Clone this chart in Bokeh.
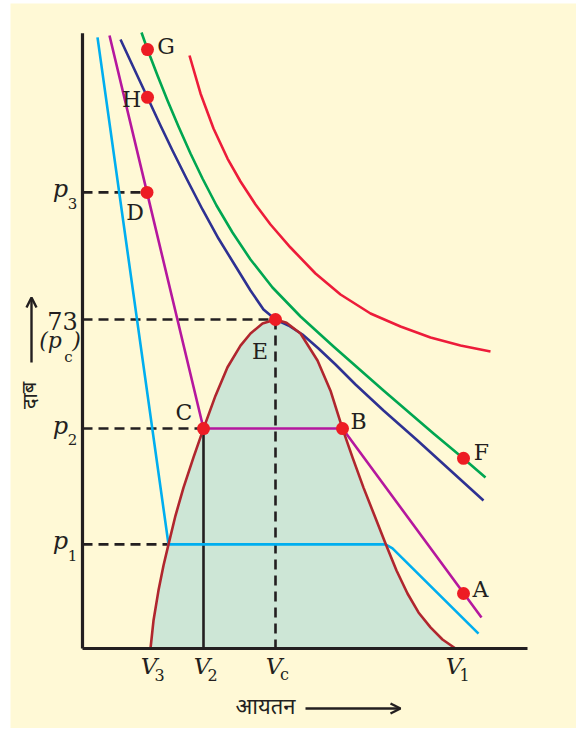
from bokeh.plotting import figure
from bokeh.models import Range1d, Arrow, OpenHead
from bokeh.core.properties import value
from bokeh.embed import file_html
from bokeh.resources import INLINE

# ---------------- data (volume in arbitrary units, pressure in atm) ----------------
# 13.1 C isotherm (cyan)
cyan_V = [1.5, 8.6, 30.3, 31.0, 39.6]
cyan_p = [135.6, 23.1, 23.1, 22.2, 3.3]
# 21.5 C isotherm (magenta)
mag_V = [2.7, 6.45, 12.1, 26.0, 39.9]
mag_p = [136.0, 101.2, 48.8, 48.8, 6.9]
# 31.1 C critical isotherm (navy)
navy_V = [3.8, 5.1, 6.5, 7.8, 9.0, 10.4, 12.0, 13.6, 15.2, 16.8, 18.1, 19.3, 20.6, 22.0,
          23.6, 25.3, 27.3, 30.1, 33.5, 36.8, 40.1]
navy_p = [135.13, 128.91, 122.26, 116.05, 110.50, 104.29, 97.41, 90.97, 85.20, 79.43, 75.22,
          73.0, 71.67, 69.67, 66.57, 63.01, 58.58, 52.81, 46.15, 39.50, 32.84]
# 35.5 C isotherm (green)
green_V = [5.9, 6.5, 7.5, 8.5, 9.6, 10.8, 12.0, 13.4, 15.0, 16.8, 19.0, 21.8, 25.1, 30.1,
           35.1, 38.1, 40.3]
green_p = [136.68, 132.91, 127.14, 121.59, 115.82, 109.83, 104.29, 98.29, 92.30, 86.31, 80.10,
           73.67, 67.01, 57.25, 47.70, 42.16, 37.94]
# 50 C isotherm (red)
red_V = [10.7, 11.8, 13.1, 14.5, 15.8, 17.3, 18.8, 20.8, 23.3, 25.8, 28.8, 31.8, 34.8, 37.8, 40.8]
red_p = [131.58, 123.15, 115.38, 108.72, 103.62, 98.52, 94.08, 88.97, 83.21, 78.55, 74.33,
         71.45, 69.01, 67.23, 65.90]
# two-phase dome
dome_V = [6.8, 7.1, 7.6, 8.1, 8.6, 9.3, 10.1, 11.1, 12.1, 13.3, 14.5, 15.8, 16.8, 18.0, 19.3,
          20.4, 21.8, 23.5, 24.8, 26.0, 27.0, 28.1, 29.2, 30.3, 31.4, 32.5, 33.6, 34.8, 36.0, 37.3]
dome_p = [0.0, 6.2, 12.9, 18.4, 23.1, 29.5, 35.7, 42.4, 48.8, 56.1, 62.4, 67.2, 69.9, 72.1, 73.0,
          72.3, 69.9, 63.9, 57.2, 48.8, 42.4, 35.7, 29.5, 23.3, 17.3, 12.2, 8.0, 4.7, 2.0, 0.0]

# marked points
pt_names = ["G", "H", "D", "E", "C", "B", "F", "A"]
pt_V = [6.5, 6.5, 6.45, 19.3, 12.1, 26.0, 38.1, 38.1]
pt_p = [132.9, 122.3, 101.2, 73.0, 48.8, 48.8, 42.2, 12.2]

# pressure levels and volume marks
p1, p2, p3, pc = 23.1, 48.8, 101.2, 73.0
V3, V2, Vc, V1 = 6.8, 12.1, 19.3, 37.3
vol_subs = ["3", "2", "c", "1"]
p_max, V_max = 136.5, 44.5

# ---------------- styling / geometry ----------------
PXV = 0.1          # volume units per pixel
PXP = 73.0 / 329   # pressure units per pixel
BG = "#FFF9D6"
INK = "#231F20"
SERIF = value("DejaVu Serif")

W, H = 576, 728
LEFT, TOP = 10, 3
p = figure(width=W, height=H, output_backend="svg", toolbar_location=None,
           x_range=Range1d(-72 * PXV, (W - 82) * PXV),
           y_range=Range1d((648 - H) * PXP, (648 - TOP) * PXP),
           min_border=0, min_border_left=LEFT, min_border_right=0,
           min_border_top=TOP, min_border_bottom=0)
p.axis.visible = False
p.grid.visible = False
p.outline_line_color = None
p.background_fill_color = BG
p.border_fill_color = "white"

# dome fill
p.patch(dome_V, dome_p, fill_color="#CDE6D6", line_color=None)

# dashed guide lines
dash = dict(line_color=INK, line_width=2.6, line_dash="10 6")
p.segment(x0=[0, 0, 0, 0], y0=[p3, pc, p2, p1],
          x1=[pt_V[2], Vc, V2, cyan_V[1]], y1=[p3, pc, p2, p1], **dash)
p.segment(x0=[Vc], y0=[pc], x1=[Vc], y1=[0], **dash)
# solid V2 line
p.segment(x0=[V2], y0=[p2], x1=[V2], y1=[0], line_color=INK, line_width=2.6)

# isotherms
lw = 2.6
p.line(cyan_V, cyan_p, line_color="#00AEEF", line_width=lw, line_join="round")
p.line(mag_V, mag_p, line_color="#B5179E", line_width=lw, line_join="round")
p.line(navy_V, navy_p, line_color="#2E3192", line_width=lw, line_join="round")
p.line(green_V, green_p, line_color="#00A651", line_width=lw, line_join="round")
p.line(red_V, red_p, line_color="#ED1C3A", line_width=lw, line_join="round")
p.line(dome_V, dome_p, line_color="#B0262E", line_width=lw, line_join="round")

# axes
p.line([0, 0], [0, p_max], line_color=INK, line_width=3.2)
p.line([0, V_max], [0, 0], line_color=INK, line_width=3.2)

# points
p.scatter(pt_V, pt_p, size=13, fill_color="#ED1C24", line_color=None)

# point labels (pixel offsets from the points)
dx_px = [18.5, -16, -12, -15.5, -19.5, 16, 18, 17]
dy_px = [3.5, -2.5, -20.5, -31.5, 16.5, 7, 6, 4]
p.text(x=[v + d * PXV for v, d in zip(pt_V, dx_px)],
       y=[q + d * PXP for q, d in zip(pt_p, dy_px)],
       text=pt_names, text_font=SERIF, text_font_size="22px",
       text_align="center", text_baseline="middle", text_color=INK)

# volume labels
vols = [V3, V2, Vc, V1]
p.text(x=[v - 1.5 * PXV for v in vols], y=[-17 * PXP] * 4, text=["V"] * 4,
       text_font=SERIF, text_font_style="italic", text_font_size="23px",
       text_align="center", text_baseline="middle", text_color=INK)
p.text(x=[v + 9 * PXV for v in vols], y=[-26 * PXP] * 4, text=vol_subs,
       text_font=SERIF, text_font_size="16px",
       text_align="center", text_baseline="alphabetic", text_color=INK)

# pressure labels
plev = [p3, p2, p1]
p.text(x=[-22 * PXV] * 3, y=[q + 3 * PXP for q in plev], text=["p"] * 3,
       text_font=SERIF, text_font_style="italic", text_font_size="24px",
       text_align="center", text_baseline="alphabetic", text_color=INK)
p.text(x=[-10 * PXV] * 3, y=[q - 11 * PXP for q in plev], text=["3", "2", "1"],
       text_font=SERIF, text_font_size="15px",
       text_align="center", text_baseline="alphabetic", text_color=INK)
p.text(x=[-20 * PXV], y=[pc - 1 * PXP], text=["73"],
       text_font=SERIF, text_font_size="24px",
       text_align="center", text_baseline="alphabetic", text_color=INK)
p.text(x=[-32 * PXV], y=[pc - 21 * PXP], text=["(p"],
       text_font=SERIF, text_font_style="italic", text_font_size="22px",
       text_align="center", text_baseline="alphabetic", text_color=INK)
p.text(x=[-14 * PXV], y=[pc - 37 * PXP], text=["c"],
       text_font=SERIF, text_font_size="15px",
       text_align="center", text_baseline="alphabetic", text_color=INK)
p.text(x=[-6 * PXV], y=[pc - 21 * PXP], text=[")"],
       text_font=SERIF, text_font_style="italic", text_font_size="22px",
       text_align="center", text_baseline="alphabetic", text_color=INK)

# axis titles (Hindi)
DEV = value("Noto Sans Devanagari, Lohit Devanagari, FreeSans, Noto Sans, sans-serif")
p.text(x=[-51 * PXV], y=[pc - 76 * PXP], text=["दाब"], angle=1.5708,
       text_font=DEV, text_font_size="20px",
       text_align="center", text_baseline="middle", text_color=INK)
p.add_layout(Arrow(end=OpenHead(size=10, line_width=2.4, line_color=INK),
                   x_start=-51 * PXV, y_start=pc - 43 * PXP,
                   x_end=-51 * PXV, y_end=pc + 22 * PXP,
                   line_width=2.4, line_color=INK))
p.text(x=[18.3], y=[-60 * PXP], text=["आयतन"],
       text_font=DEV, text_font_size="22px",
       text_align="center", text_baseline="middle", text_color=INK)
p.add_layout(Arrow(end=OpenHead(size=10, line_width=2.4, line_color=INK),
                   x_start=22.3, y_start=-60 * PXP, x_end=31.8, y_end=-60 * PXP,
                   line_width=2.4, line_color=INK))

open("out.html", "w").write(file_html(p, INLINE))
